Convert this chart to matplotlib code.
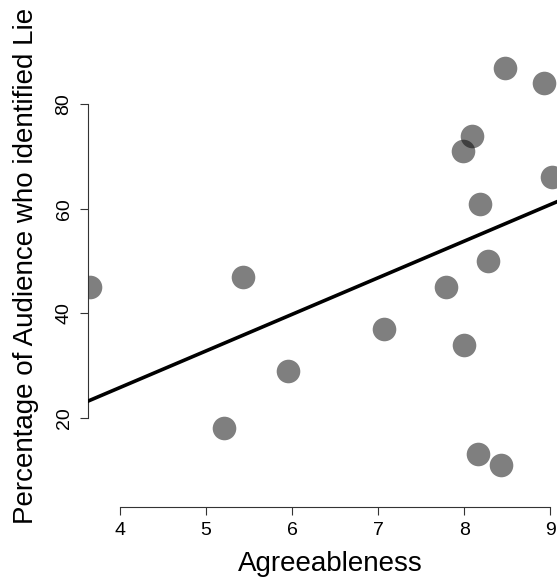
import matplotlib
matplotlib.use("Agg")
import matplotlib.pyplot as plt

# Data
agreeableness = [3.646, 5.433, 5.212, 5.952, 7.071, 7.788, 8.00, 8.16,
                 8.43, 8.28, 8.47, 8.93, 8.087, 7.99, 9.02, 8.18]
pct_identified = [45, 47, 18, 29, 37, 45, 34, 13,
                  11, 50, 87, 84, 74, 71, 66, 61]
fit_intercept = -2.24
fit_slope = 7.005
x_ticks = [4, 5, 6, 7, 8, 9]
y_ticks = [20, 40, 60, 80]

plt.rcParams['font.family'] = ['Liberation Sans', 'DejaVu Sans']

W, H, DPI = 557, 579, 100
fig = plt.figure(figsize=(W / DPI, H / DPI), dpi=DPI)

# axes placement in pixels (plot region extends beyond the cropped image)
left_px, right_px, top_px, bottom_px = 88.3, 573.0, 23.7, 507.3
ax = fig.add_axes([left_px / W, (H - bottom_px) / H,
                   (right_px - left_px) / W, (bottom_px - top_px) / H])

ax.set_xlim(3.632, 9.264)
ax.set_ylim(2.85, 95.43)

ax.scatter(agreeableness, pct_identified, s=17 ** 2, color='black',
           alpha=0.5, linewidths=0, zorder=2)
ax.axline((0, fit_intercept), slope=fit_slope, color='black', lw=2.6, zorder=3)

for s in ['top', 'right']:
    ax.spines[s].set_visible(False)
ax.spines['left'].set_bounds(20, 80)
ax.spines['bottom'].set_bounds(4, 9)
for s in ['left', 'bottom']:
    ax.spines[s].set_color('#333333')
    ax.spines[s].set_linewidth(0.8)

ax.set_xticks(x_ticks)
ax.set_yticks(y_ticks)
ax.tick_params(axis='both', length=5.8, width=0.8, color='#333333',
               labelsize=14, labelcolor='black')
ax.tick_params(axis='x', pad=5)
ax.tick_params(axis='y', pad=5.5, labelrotation=90)
for lab in ax.get_yticklabels():
    lab.set_va('center')

ax.set_xlabel('Agreeableness', fontsize=20)
ax.set_ylabel('Percentage of Audience who identified Lie', fontsize=20)
wpx = right_px - left_px
hpx = bottom_px - top_px
ax.xaxis.label.set_va('baseline')
ax.xaxis.set_label_coords(0.5, -(571 - bottom_px) / hpx)
ax.yaxis.label.set_va('baseline')
ax.yaxis.set_label_coords(-(left_px - 33) / wpx, 0.5)

fig.savefig('out.png', dpi=DPI)
